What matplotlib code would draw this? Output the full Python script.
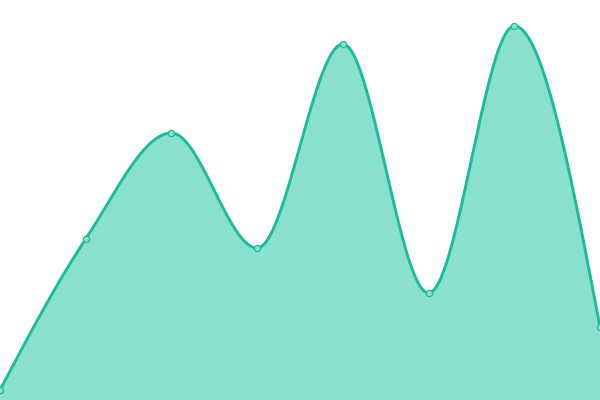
import numpy as np
import matplotlib
matplotlib.use("Agg")
import matplotlib.pyplot as plt

# data (plot area 0..400 high)
x_vals = [0, 1, 2, 3, 4, 5, 6, 7]
y_vals = [10, 161, 267, 152, 356, 107, 374, 73]

LINE = "#1abc9c"
FILL = "#8ae0ce"


def monotone_x(x, y, n=40):
    """d3-style curveMonotoneX, sampled into dense arrays."""
    x = np.asarray(x, float)
    y = np.asarray(y, float)
    h = np.diff(x)
    s = np.diff(y) / h
    t = np.zeros(len(x))
    for i in range(1, len(x) - 1):
        s0, s1 = s[i - 1], s[i]
        p = (s0 * h[i] + s1 * h[i - 1]) / (h[i - 1] + h[i])
        t[i] = (np.sign(s0) + np.sign(s1)) * min(abs(s0), abs(s1), 0.5 * abs(p))
    t[0] = (3 * s[0] - t[1]) / 2
    t[-1] = (3 * s[-1] - t[-2]) / 2
    xs, ys = [], []
    for i in range(len(x) - 1):
        dx = h[i] / 3
        p0 = (x[i], y[i])
        p1 = (x[i] + dx, y[i] + dx * t[i])
        p2 = (x[i + 1] - dx, y[i + 1] - dx * t[i + 1])
        p3 = (x[i + 1], y[i + 1])
        u = np.linspace(0, 1, n)
        a = (1 - u) ** 3
        b = 3 * (1 - u) ** 2 * u
        c = 3 * (1 - u) * u ** 2
        d = u ** 3
        xs.append(a * p0[0] + b * p1[0] + c * p2[0] + d * p3[0])
        ys.append(a * p0[1] + b * p1[1] + c * p2[1] + d * p3[1])
    return np.concatenate(xs), np.concatenate(ys)


fig = plt.figure(figsize=(6, 4), dpi=100)
ax = fig.add_axes([0, 0, 1, 1])

cx, cy = monotone_x(x_vals, y_vals)
ax.fill_between(cx, cy, 0, color=FILL, linewidth=0)
ax.plot(cx, cy, color=LINE, linewidth=2.1, solid_capstyle="round")
ax.plot(x_vals, y_vals, linestyle="none", marker="o", markersize=4.5,
        markerfacecolor=FILL, markeredgecolor=LINE, markeredgewidth=0.9)

ax.set_xlim(0, 7)
ax.set_ylim(0, 400)
ax.axis("off")

fig.savefig("out.png", dpi=100)
